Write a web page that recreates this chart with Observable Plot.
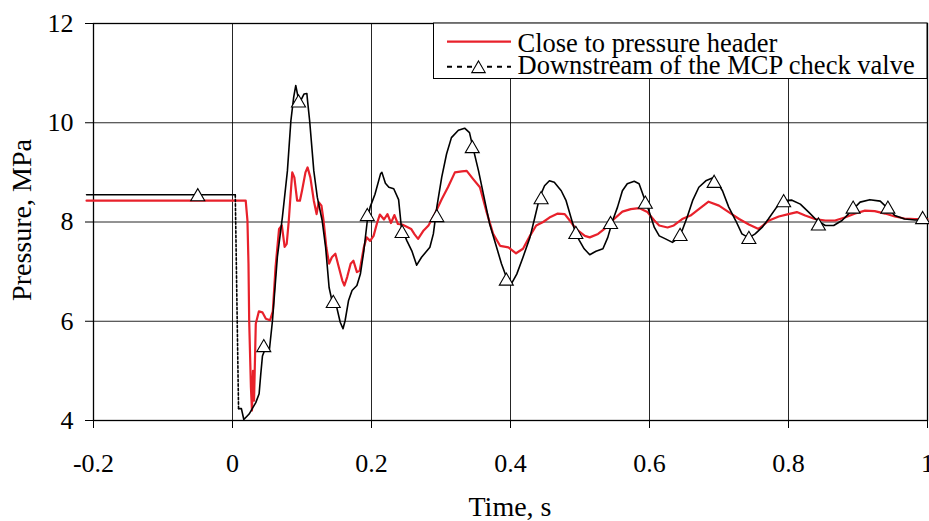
<!DOCTYPE html>
<html><head><meta charset="utf-8">
<script src="https://cdn.jsdelivr.net/npm/d3@7"></script>
<script src="https://cdn.jsdelivr.net/npm/@observablehq/plot@0.6"></script>
<style>
html,body{margin:0;padding:0;background:#fff;}
svg{display:block}
#chart svg, #chart svg text{font-family:'Liberation Serif','Times New Roman','DejaVu Serif',serif !important;}
</style>
</head><body><div id="chart"></div>
<script>
const xTicks = [-0.2, 0, 0.2, 0.4, 0.6, 0.8, 1];
const yTicks = [4, 6, 8, 10, 12];
const seriesNames = ["Close to pressure header", "Downstream of the MCP check valve"];
const xTitle = "Time, s";
const yTitle = "Pressure, MPa";

// Close to pressure header (red) : [time s, pressure MPa]
const redSeries = [
  [-0.21, 8.43], [0.019, 8.43], [0.0215, 8.03], [0.023, 7.16], [0.024, 6.01], [0.0265, 4.67],
  [0.028, 4.2], [0.0295, 5.0], [0.031, 4.4], [0.0335, 5.95], [0.038, 6.2], [0.043, 6.18],
  [0.048, 6.05], [0.054, 6.02], [0.058, 6.2], [0.062, 7.1], [0.067, 7.86], [0.071, 7.93],
  [0.075, 7.5], [0.078, 7.56], [0.081, 8.03], [0.084, 8.63], [0.086, 9.0], [0.089, 8.9],
  [0.093, 8.43], [0.097, 8.43], [0.100, 8.63], [0.105, 9.0], [0.108, 9.1], [0.112, 8.9],
  [0.117, 8.43], [0.121, 8.16], [0.124, 8.4], [0.128, 8.33], [0.131, 8.03], [0.135, 7.49],
  [0.139, 7.16], [0.143, 7.29], [0.148, 7.36], [0.153, 7.09], [0.158, 6.82], [0.161, 6.72],
  [0.165, 6.89], [0.170, 7.16], [0.174, 7.22], [0.179, 6.99], [0.183, 7.02], [0.189, 7.49],
  [0.193, 7.69], [0.198, 7.62], [0.203, 7.72], [0.208, 7.98], [0.212, 8.15], [0.218, 8.05],
  [0.223, 8.16], [0.228, 7.98], [0.233, 8.14], [0.238, 7.96], [0.244, 7.95], [0.250, 7.91],
  [0.257, 7.86], [0.262, 7.75], [0.267, 7.66], [0.275, 7.83], [0.282, 7.93], [0.291, 8.16],
  [0.301, 8.46], [0.310, 8.70], [0.320, 9.0], [0.330, 9.02], [0.337, 9.03], [0.346, 8.87],
  [0.356, 8.70], [0.365, 8.23], [0.375, 7.76], [0.385, 7.52], [0.397, 7.49], [0.408, 7.37],
  [0.418, 7.46], [0.428, 7.72], [0.437, 7.93], [0.447, 8.0], [0.456, 8.09], [0.468, 8.17],
  [0.478, 8.16], [0.487, 8.0], [0.494, 7.86], [0.507, 7.72], [0.514, 7.69], [0.526, 7.76],
  [0.538, 7.89], [0.549, 8.06], [0.561, 8.21], [0.573, 8.26], [0.585, 8.28], [0.597, 8.2],
  [0.607, 8.03], [0.614, 7.93], [0.626, 7.89], [0.635, 7.93], [0.647, 8.06], [0.659, 8.13],
  [0.671, 8.26], [0.685, 8.41], [0.700, 8.33], [0.714, 8.2], [0.729, 8.06], [0.743, 7.95],
  [0.757, 7.86], [0.772, 8.03], [0.786, 8.11], [0.800, 8.16], [0.812, 8.2], [0.824, 8.13],
  [0.838, 8.06], [0.853, 8.03], [0.867, 8.03], [0.881, 8.09], [0.896, 8.17], [0.910, 8.23],
  [0.924, 8.22], [0.939, 8.17], [0.953, 8.11], [0.967, 8.07], [0.982, 8.06], [1.0, 8.06]
];

// Downstream of the MCP check valve (black) : [time s, pressure MPa]
const blackSeries = [
  [-0.21, 8.55], [0.004, 8.55], [0.0087, 4.24], [0.0128, 4.24], [0.0163, 4.02], [0.0239, 4.13],
  [0.0335, 4.36], [0.0383, 4.54], [0.0407, 4.94], [0.0431, 5.3], [0.0464, 5.42], [0.0529, 5.4],
  [0.0575, 6.01], [0.0646, 7.3], [0.0718, 8.1], [0.079, 9.03], [0.084, 10.04], [0.088, 10.51],
  [0.091, 10.75], [0.094, 10.54], [0.098, 10.44], [0.103, 10.58], [0.107, 10.59], [0.108, 10.44],
  [0.111, 10.04], [0.117, 9.03], [0.122, 8.5], [0.129, 8.03], [0.134, 7.49], [0.139, 6.68],
  [0.143, 6.42], [0.150, 6.28], [0.155, 5.98], [0.159, 5.85], [0.162, 6.01], [0.167, 6.42],
  [0.172, 6.62], [0.179, 6.72], [0.184, 6.95], [0.189, 7.42], [0.194, 8.03], [0.198, 8.3],
  [0.205, 8.56], [0.213, 8.97], [0.215, 9.0], [0.220, 8.78], [0.225, 8.7], [0.232, 8.67],
  [0.239, 8.45], [0.243, 7.89], [0.251, 7.62], [0.258, 7.42], [0.265, 7.13], [0.272, 7.29],
  [0.284, 7.49], [0.289, 7.76], [0.294, 8.3], [0.301, 8.9], [0.308, 9.37], [0.315, 9.70],
  [0.325, 9.85], [0.334, 9.89], [0.341, 9.8], [0.346, 9.5], [0.354, 9.03], [0.361, 8.56],
  [0.370, 7.96], [0.380, 7.49], [0.387, 7.16], [0.394, 6.89], [0.401, 6.75], [0.409, 6.95],
  [0.418, 7.29], [0.428, 7.69], [0.435, 8.09], [0.442, 8.5], [0.449, 8.73], [0.456, 8.83],
  [0.463, 8.8], [0.473, 8.63], [0.480, 8.43], [0.487, 8.09], [0.494, 7.76], [0.499, 7.63],
  [0.506, 7.46], [0.514, 7.34], [0.523, 7.41], [0.533, 7.46], [0.540, 7.69], [0.547, 8.03],
  [0.554, 8.3], [0.561, 8.63], [0.568, 8.77], [0.578, 8.82], [0.585, 8.77], [0.592, 8.5],
  [0.599, 8.23], [0.607, 7.89], [0.614, 7.72], [0.623, 7.66], [0.633, 7.59], [0.640, 7.66],
  [0.647, 7.83], [0.654, 8.09], [0.662, 8.43], [0.671, 8.7], [0.681, 8.83], [0.693, 8.9],
  [0.705, 8.63], [0.714, 8.3], [0.724, 8.03], [0.733, 7.76], [0.743, 7.68], [0.752, 7.76],
  [0.762, 7.89], [0.771, 8.06], [0.783, 8.3], [0.793, 8.43], [0.805, 8.44], [0.817, 8.36],
  [0.829, 8.2], [0.841, 8.03], [0.853, 7.93], [0.865, 7.93], [0.877, 8.03], [0.891, 8.23],
  [0.903, 8.4], [0.917, 8.45], [0.932, 8.42], [0.941, 8.3], [0.953, 8.13], [0.967, 8.06],
  [0.982, 8.04], [1.0, 8.04]
];

// triangle markers of the black series
const markerT = [-0.05, 0.045, 0.095, 0.145, 0.194, 0.244, 0.294, 0.345, 0.394, 0.444, 0.494,
  0.544, 0.594, 0.644, 0.693, 0.743, 0.793, 0.843, 0.893, 0.943, 0.993];
const markerP = [8.55, 5.51, 10.44, 6.40, 8.15, 7.81, 8.13, 9.52, 6.85, 8.49, 7.79,
  7.99, 8.40, 7.75, 8.82, 7.69, 8.43, 7.96, 8.30, 8.30, 8.09];

const red = redSeries.map(([t, p]) => ({t, p}));
const black = blackSeries.map(([t, p]) => ({t, p}));
const blackPre = black.slice(0, 2);
const blackDrop = black.slice(1, 3);
const blackPost = black.slice(2);
const markers = markerT.map((t, i) => ({t, p: markerP[i]}));

const FONT = "'Liberation Serif', 'Times New Roman', serif";
const RED = "#e8212b";

const chart = Plot.plot({
  width: 929, height: 521,
  marginLeft: 93, marginRight: 2, marginTop: 23, marginBottom: 101,
  style: {fontFamily: FONT, fontSize: "26px", color: "#000", background: "#fff", overflow: "visible"},
  x: {domain: [-0.2, 1]},
  y: {domain: [4, 12]},
  marks: [
    Plot.gridX(xTicks, {stroke: "#000", strokeOpacity: 0.85, strokeWidth: 1}),
    Plot.gridY(yTicks, {stroke: "#000", strokeOpacity: 0.85, strokeWidth: 1}),
    Plot.axisX(xTicks, {tickSize: 8, tickPadding: 25, tickFormat: d => String(d), label: null}),
    Plot.axisY(yTicks, {tickSize: 8, tickPadding: 12, tickFormat: d => String(d), label: null}),
    Plot.frame({stroke: "#000", strokeWidth: 1.3}),
    Plot.line(red, {x: "t", y: "p", stroke: RED, strokeWidth: 2.2}),
    Plot.line(blackPre, {x: "t", y: "p", stroke: "#000", strokeWidth: 1.6}),
    Plot.line(blackDrop, {x: "t", y: "p", stroke: "#000", strokeWidth: 1.6, strokeDasharray: "2.5,2"}),
    Plot.line(blackPost, {x: "t", y: "p", stroke: "#000", strokeWidth: 1.6}),
    Plot.dot(markers, {x: "t", y: "p", symbol: "triangle", r: 5.2, fill: "#fff", stroke: "#000", strokeWidth: 1.1, dy: 2})
  ]
});
document.getElementById("chart").appendChild(chart);

const svg = d3.select(chart);
// axis titles
svg.append("text").attr("x", 510).attr("y", 516).attr("text-anchor", "middle")
  .attr("font-size", 28).attr("fill", "#000").text(xTitle);
svg.append("text").attr("transform", "translate(31,220) rotate(-90)").attr("text-anchor", "middle")
  .attr("font-size", 28).attr("fill", "#000").text(yTitle);

// legend
const lg = svg.append("g").attr("font-size", 26.5).attr("fill", "#000").attr("text-anchor", "start");
lg.append("rect").attr("x", 433.5).attr("y", 23).attr("width", 493.5).attr("height", 55.5)
  .attr("fill", "#fff").attr("stroke", "#000").attr("stroke-width", 1);
lg.append("line").attr("x1", 447).attr("x2", 511).attr("y1", 41.7).attr("y2", 41.7)
  .attr("stroke", RED).attr("stroke-width", 2.2);
lg.append("text").attr("x", 517.5).attr("y", 51.7).attr("text-anchor", "start").text(seriesNames[0]);
lg.append("line").attr("x1", 447).attr("x2", 511).attr("y1", 66.7).attr("y2", 66.7)
  .attr("stroke", "#000").attr("stroke-width", 2).attr("stroke-dasharray", "5,5");
lg.append("path").attr("d", d3.symbol(d3.symbolTriangle, Math.PI * 5 * 5)())
  .attr("transform", "translate(478.5,68.7)").attr("fill", "#fff").attr("stroke", "#000").attr("stroke-width", 1.1);
lg.append("text").attr("x", 517.5).attr("y", 74.3).attr("text-anchor", "start").text(seriesNames[1]);
</script>
</body></html>
